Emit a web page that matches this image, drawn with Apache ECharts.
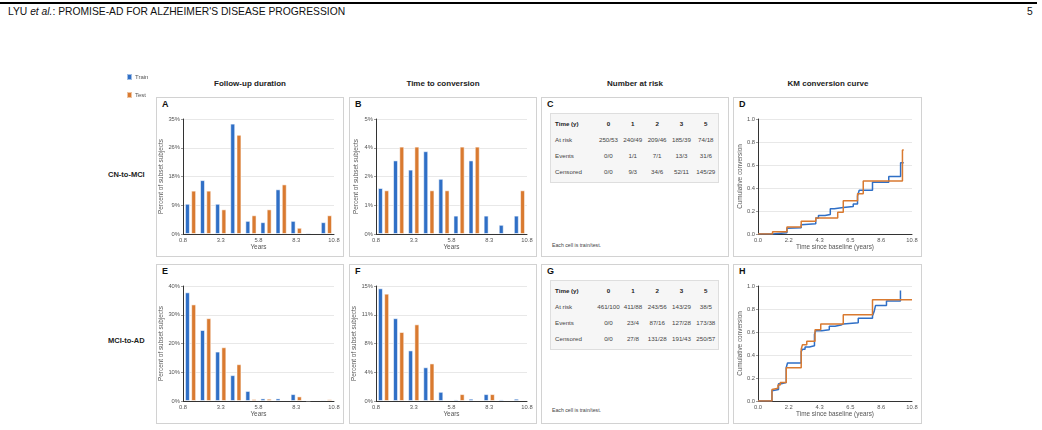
<!DOCTYPE html>
<html>
<head>
<meta charset="utf-8">
<script src="https://cdn.jsdelivr.net/npm/echarts@6/dist/echarts.min.js"></script>
<style>
  body { margin: 0; background: #fff; font-family: "Liberation Sans", Arial, sans-serif; }
  #page { position: relative; width: 1042px; height: 430px; overflow: hidden; }
  .abs { position: absolute; }
  .box { position: absolute; border: 1px solid #d2d2d2; box-sizing: border-box; }
  .tag { position: absolute; font-weight: bold; font-size: 9px; color: #111; }
  .coltitle { position: absolute; font-weight: bold; font-size: 8px; color: #222; text-align: center; width: 180px; }
  .rowlabel { position: absolute; font-weight: bold; font-size: 7.5px; color: #222; }
  .tbl { position: absolute; background: #f6f6f6; border: 1px solid #dedede; box-sizing: border-box; padding-top: 1px; }
  .tbl table { border-collapse: collapse; font-size: 6.2px; color: #444; }
  .tbl td { padding: 0; height: 16px; text-align: center; width: 25px; white-space: nowrap; }
  .tbl td.first { text-align: left; width: 43px; padding-left: 4px; }
  .tbl tr.head td { font-weight: bold; color: #222; }
  .note { position: absolute; font-size: 5.2px; color: #444; }
  #chart { position: absolute; left: 0; top: 0; width: 1042px; height: 430px; }
</style>
</head>
<body>
<div id="page">
  <div class="abs" style="left:0;top:2px;width:1037px;height:2px;background:#000"></div>
  <div class="abs" style="left:8px;top:6px;font-size:10.3px;color:#111">LYU <i>et al.</i>: PROMISE-AD FOR ALZHEIMER'S DISEASE PROGRESSION</div>
  <div class="abs" style="left:1027px;top:6px;font-size:10.3px;color:#111">5</div>

  <div class="coltitle" style="left:160px;top:79px">Follow-up duration</div>
  <div class="coltitle" style="left:353px;top:79px">Time to conversion</div>
  <div class="coltitle" style="left:545px;top:79px">Number at risk</div>
  <div class="coltitle" style="left:738px;top:79px">KM conversion curve</div>

  <div class="rowlabel" style="left:108px;top:170px">CN-to-MCI</div>
  <div class="rowlabel" style="left:108px;top:336px">MCI-to-AD</div>

  <div class="box" style="left:156px;top:97px;width:188px;height:160px"></div>
  <div class="box" style="left:349px;top:97px;width:188px;height:160px"></div>
  <div class="box" style="left:541px;top:97px;width:188px;height:160px"></div>
  <div class="box" style="left:733px;top:97px;width:189px;height:160px"></div>
  <div class="box" style="left:156px;top:264px;width:188px;height:160px"></div>
  <div class="box" style="left:349px;top:264px;width:188px;height:160px"></div>
  <div class="box" style="left:541px;top:264px;width:188px;height:160px"></div>
  <div class="box" style="left:733px;top:264px;width:189px;height:160px"></div>

  <div class="tag" style="left:162px;top:99px">A</div>
  <div class="tag" style="left:355px;top:99px">B</div>
  <div class="tag" style="left:547px;top:99px">C</div>
  <div class="tag" style="left:739px;top:99px">D</div>
  <div class="tag" style="left:162px;top:266px">E</div>
  <div class="tag" style="left:355px;top:266px">F</div>
  <div class="tag" style="left:547px;top:266px">G</div>
  <div class="tag" style="left:739px;top:266px">H</div>

  <div class="tbl" id="tblC" style="left:550px;top:113px;width:169px;height:70px"></div>
  <div class="note" style="left:552px;top:242px">Each cell is train/test.</div>
  <div class="tbl" id="tblG" style="left:550px;top:280px;width:169px;height:70px"></div>
  <div class="note" style="left:552px;top:407px">Each cell is train/test.</div>

  <div id="chart"></div>
</div>
<script>
// bins of one year starting at 0.8 (centres)
var binYears = [1.3, 2.3, 3.3, 4.3, 5.3, 6.3, 7.3, 8.3, 9.3, 10.3];
var binTicks = ['0.8', '3.3', '5.8', '8.3', '10.8'];

// percent of subset subjects
var followCnTrain = [9.2, 16.4, 9.2, 33.6, 4.0, 3.6, 13.6, 4.0, 0.4, 3.6];
var followCnTest = [13.2, 13.2, 7.5, 30.2, 5.7, 7.5, 15.1, 1.9, 0, 5.7];
var convCnTrain = [2.0, 3.2, 2.8, 3.6, 2.4, 0.8, 3.2, 0.8, 0.4, 0.8];
var convCnTest = [1.9, 3.8, 3.8, 1.9, 1.9, 3.8, 3.8, 0, 0, 1.9];
var followMciTrain = [37.8, 24.7, 17.2, 9.0, 3.5, 0.9, 0.9, 2.4, 0.2, 0.4];
var followMciTest = [33.6, 28.8, 18.7, 12.8, 0.7, 0.8, 0, 1.6, 0, 0.6];
var convMciTrain = [14.7, 10.8, 6.6, 4.4, 1.2, 0.2, 0.3, 0.9, 0.2, 0.3];
var convMciTest = [14.0, 9.0, 10.0, 4.9, 0, 0.9, 0, 0.9, 0, 0];

var yTicksFollowCn = ['0%', '9%', '18%', '26%', '35%'];
var yTicksConvCn = ['0%', '1%', '2%', '4%', '5%'];
var yTicksFollowMci = ['0%', '10%', '20%', '30%', '40%'];
var yTicksConvMci = ['0%', '4%', '8%', '11%', '15%'];

// KM cumulative conversion, [years, value]
var kmCnTrain = [[0, 0], [1.02, 0.01], [2.03, 0.05], [2.1, 0.055], [3.03, 0.08], [3.15, 0.09], [4.05, 0.14], [4.24, 0.16], [4.7, 0.17], [5.07, 0.22], [5.35, 0.23], [5.98, 0.24], [6.68, 0.26], [6.98, 0.33], [7.1, 0.38], [8.03, 0.45], [9.17, 0.50], [10.0, 0.62], [10.22, 0.62]];
var kmCnTest = [[0, 0], [1.02, 0.02], [2.03, 0.06], [3.03, 0.11], [4.05, 0.14], [5.59, 0.19], [5.98, 0.29], [6.98, 0.35], [7.38, 0.46], [10.13, 0.73], [10.22, 0.73]];
var kmMciTrain = [[0, 0], [0.98, 0.09], [1.1, 0.10], [1.44, 0.15], [1.63, 0.16], [1.98, 0.29], [2.07, 0.33], [3.03, 0.43], [3.12, 0.45], [3.3, 0.47], [3.6, 0.48], [3.96, 0.58], [4.05, 0.61], [4.47, 0.62], [5.0, 0.65], [5.4, 0.66], [5.82, 0.67], [5.98, 0.68], [7.03, 0.72], [8.03, 0.74], [8.15, 0.78], [8.24, 0.83], [9.01, 0.87], [9.99, 0.96], [10.01, 0.96]];
var kmMciTest = [[0, 0], [0.98, 0.10], [1.1, 0.11], [1.4, 0.14], [1.56, 0.16], [1.98, 0.29], [3.03, 0.45], [3.12, 0.49], [3.42, 0.52], [4.0, 0.62], [4.4, 0.67], [5.98, 0.75], [8.03, 0.88], [10.8, 0.88]];
var kmXTicks = ['0.0', '2.2', '4.3', '6.5', '8.6', '10.8'];
var kmYTicks = ['0.0', '0.2', '0.4', '0.6', '0.8', '1.0'];

// number at risk tables (train/test)
var riskTimes = ['0', '1', '2', '3', '5'];
var cnAtRisk = ['250/53', '240/49', '209/46', '185/39', '74/18'];
var cnEvents = ['0/0', '1/1', '7/1', '13/3', '31/6'];
var cnCensored = ['0/0', '9/3', '34/6', '52/11', '145/29'];
var mciAtRisk = ['461/100', '411/88', '243/56', '143/29', '38/5'];
var mciEvents = ['0/0', '23/4', '87/16', '127/28', '173/38'];
var mciCensored = ['0/0', '27/8', '131/28', '191/43', '250/57'];

function fillTable(id, atRisk, events, censored) {
  var rows = [['Time (y)'].concat(riskTimes), ['At risk'].concat(atRisk),
              ['Events'].concat(events), ['Censored'].concat(censored)];
  var html = '<table>';
  rows.forEach(function (r, i) {
    html += '<tr' + (i === 0 ? ' class="head"' : '') + '>';
    r.forEach(function (c, j) { html += '<td' + (j === 0 ? ' class="first"' : '') + '>' + c + '</td>'; });
    html += '</tr>';
  });
  document.getElementById(id).innerHTML = html + '</table>';
}
fillTable('tblC', cnAtRisk, cnEvents, cnCensored);
fillTable('tblG', mciAtRisk, mciEvents, mciCensored);

var BLUE = '#2f6fc6';
var ORANGE = '#d97a30';
var lblStyle = { fontSize: 5.8, color: '#555', fontFamily: 'Liberation Sans' };
var nameStyle = { fontSize: 6.4, color: '#555', fontFamily: 'Liberation Sans' };

var grids = [
  { left: 183, top: 119, width: 151, height: 115 },
  { left: 376, top: 119, width: 151, height: 115 },
  { left: 758, top: 119, width: 154, height: 115 },
  { left: 183, top: 286, width: 151, height: 115 },
  { left: 376, top: 286, width: 151, height: 115 },
  { left: 758, top: 286, width: 154, height: 115 }
];

function binXAxis(g) {
  return {
    type: 'value', gridIndex: g, min: 0.8, max: 10.8, interval: 2.5,
    name: 'Years', nameLocation: 'middle', nameGap: 10, nameTextStyle: nameStyle,
    axisLine: { show: true, lineStyle: { color: '#333', width: 1 } },
    axisTick: { show: false },
    splitLine: { show: false },
    axisLabel: Object.assign({ margin: 3, formatter: function (v) { return binTicks[Math.round((v - 0.8) / 2.5)]; } }, lblStyle)
  };
}
function pctYAxis(g, max, ticks) {
  return {
    type: 'value', gridIndex: g, min: 0, max: max, interval: max / 4,
    name: 'Percent of subset subjects', nameLocation: 'middle', nameGap: 17, nameTextStyle: nameStyle,
    axisLine: { show: true, lineStyle: { color: '#333', width: 1 } },
    axisTick: { show: true, length: 2, lineStyle: { color: '#999' } },
    splitLine: { lineStyle: { color: '#e8e8e8', width: 1 } },
    axisLabel: Object.assign({ margin: 3, formatter: function (v) { return ticks[Math.round(v / (max / 4))]; } }, lblStyle)
  };
}
function kmXAxis(g) {
  return {
    type: 'value', gridIndex: g, min: 0, max: 10.8, interval: 2.16,
    name: 'Time since baseline (years)', nameLocation: 'middle', nameGap: 10, nameTextStyle: nameStyle,
    axisLine: { show: true, lineStyle: { color: '#333', width: 1 } },
    axisTick: { show: false },
    splitLine: { show: false },
    axisLabel: Object.assign({ margin: 3, formatter: function (v) { return kmXTicks[Math.round(v / 2.16)]; } }, lblStyle)
  };
}
function kmYAxis(g) {
  return {
    type: 'value', gridIndex: g, min: 0, max: 1, interval: 0.2,
    name: 'Cumulative conversion', nameLocation: 'middle', nameGap: 15, nameTextStyle: nameStyle,
    axisLine: { show: true, lineStyle: { color: '#333', width: 1 } },
    axisTick: { show: true, length: 2, lineStyle: { color: '#999' } },
    splitLine: { lineStyle: { color: '#e8e8e8', width: 1 } },
    axisLabel: Object.assign({ margin: 3, formatter: function (v) { return kmYTicks[Math.round(v / 0.2)]; } }, lblStyle)
  };
}
function bars(name, g, vals, color) {
  return {
    name: name, type: 'bar', xAxisIndex: g, yAxisIndex: g,
    barWidth: '33%', barGap: '25%',
    itemStyle: { color: color, borderColor: 'rgba(255,255,255,0.55)', borderWidth: 1 },
    data: vals.map(function (v, i) { return [binYears[i], v === 0 ? '-' : v]; })
  };
}
function km(name, g, pts, color) {
  return {
    name: name, type: 'line', xAxisIndex: g, yAxisIndex: g, step: 'end',
    showSymbol: false, symbol: 'none',
    lineStyle: { color: color, width: 1.5 }, itemStyle: { color: color },
    data: pts
  };
}

var chart = echarts.init(document.getElementById('chart'));
var option = {
  animation: false,
  legend: {
    orient: 'vertical', left: 121, top: 68, icon: 'rect',
    itemWidth: 5, itemHeight: 6, itemGap: 10,
    textStyle: { fontSize: 6, color: '#555', fontFamily: 'Liberation Sans', padding: [0, 0, 0, -2] },
    data: ['Train', 'Test']
  },
  grid: grids,
  xAxis: [binXAxis(0), binXAxis(1), kmXAxis(2), binXAxis(3), binXAxis(4), kmXAxis(5)],
  yAxis: [pctYAxis(0, 35, yTicksFollowCn), pctYAxis(1, 5, yTicksConvCn), kmYAxis(2),
          pctYAxis(3, 40, yTicksFollowMci), pctYAxis(4, 15, yTicksConvMci), kmYAxis(5)],
  series: [
    bars('Train', 0, followCnTrain, BLUE), bars('Test', 0, followCnTest, ORANGE),
    bars('Train', 1, convCnTrain, BLUE), bars('Test', 1, convCnTest, ORANGE),
    km('Train', 2, kmCnTrain, BLUE), km('Test', 2, kmCnTest, ORANGE),
    bars('Train', 3, followMciTrain, BLUE), bars('Test', 3, followMciTest, ORANGE),
    bars('Train', 4, convMciTrain, BLUE), bars('Test', 4, convMciTest, ORANGE),
    km('Train', 5, kmMciTrain, BLUE), km('Test', 5, kmMciTest, ORANGE)
  ]
};
chart.setOption(option);
</script>
</body>
</html>
